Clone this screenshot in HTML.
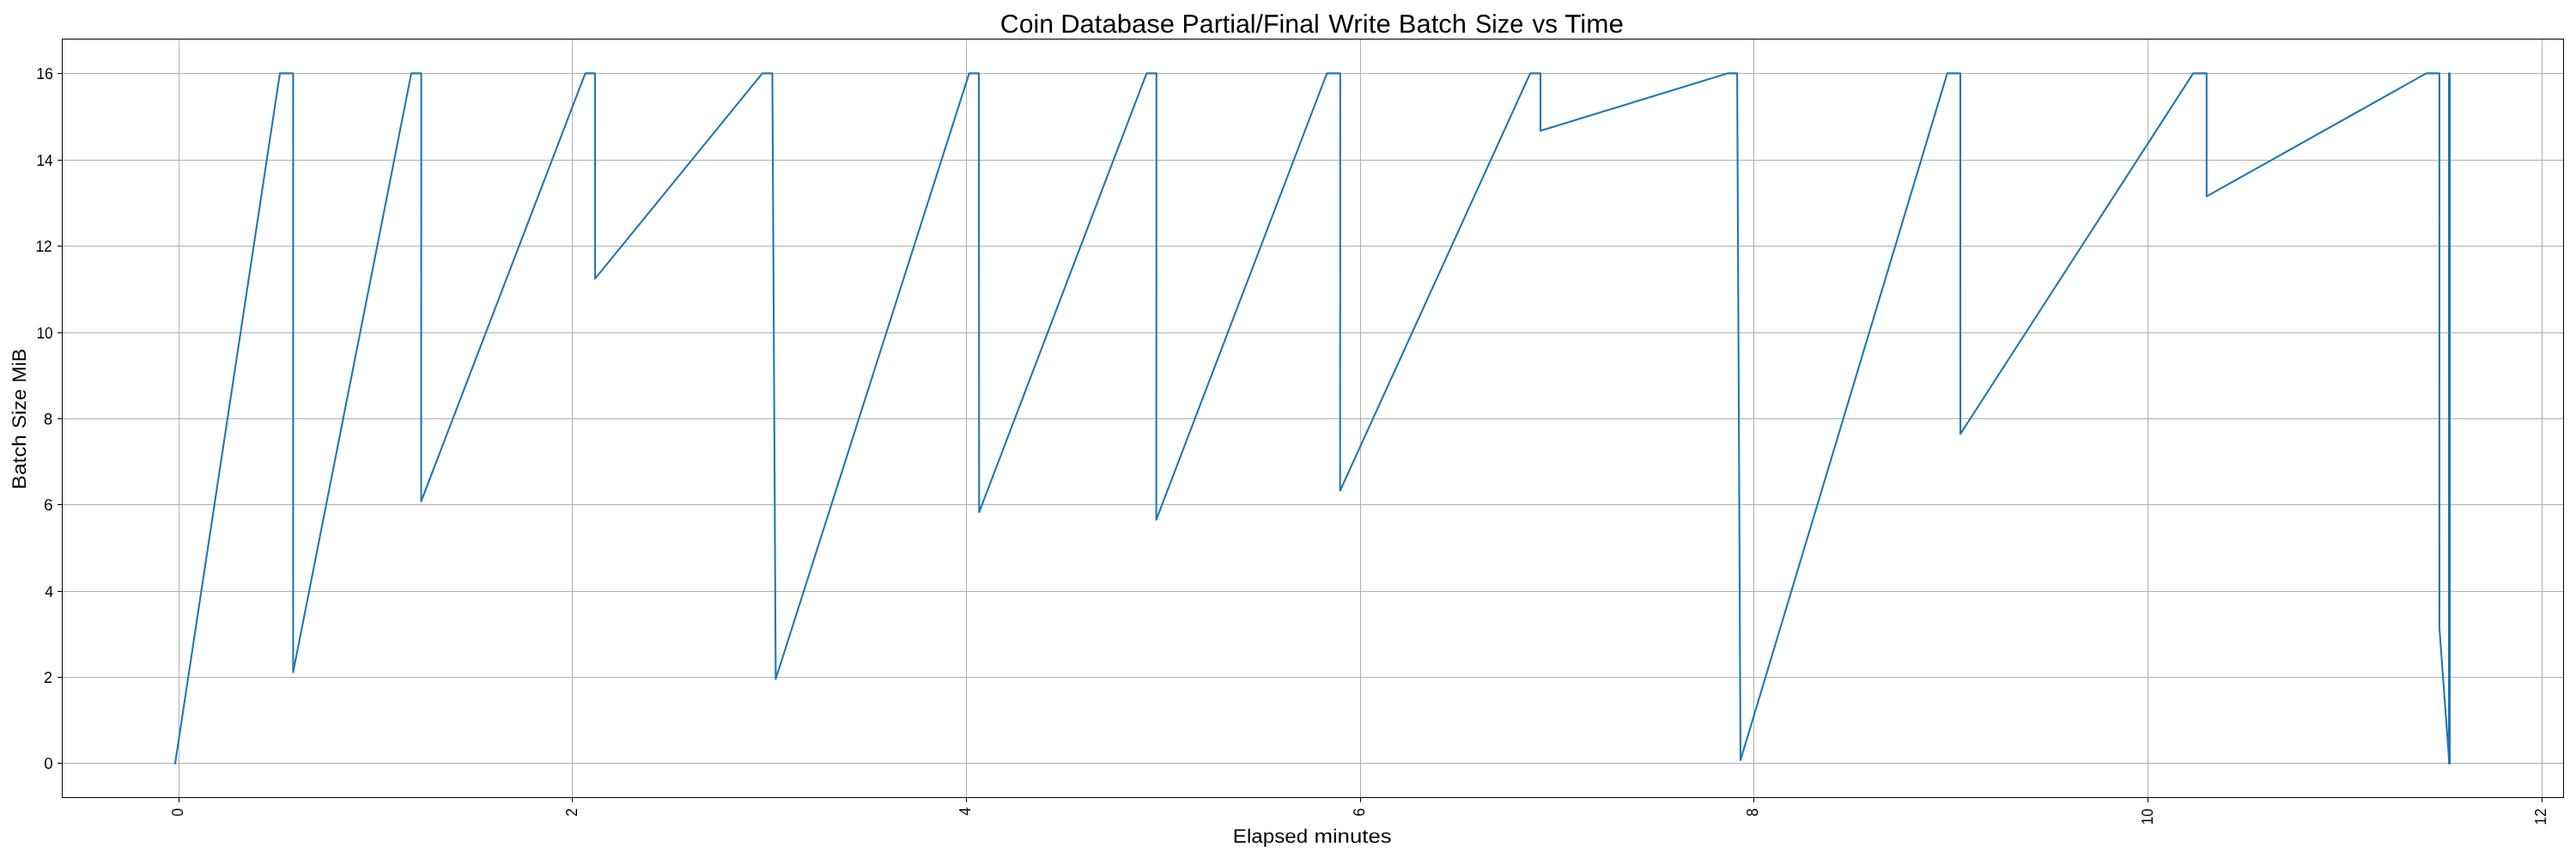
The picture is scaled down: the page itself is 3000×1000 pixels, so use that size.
<!DOCTYPE html><html><head><meta charset="utf-8"><style>html,body{margin:0;padding:0;background:#fff;overflow:hidden}svg{display:block;will-change:transform}text{font-family:"Liberation Sans",sans-serif;fill:#000;text-rendering:geometricPrecision}</style></head><body>
<svg width="3000" height="1000" viewBox="0 0 3000 1000">
<rect x="0" y="0" width="3000" height="1000" fill="#fff"/>
<g shape-rendering="crispEdges"><rect x="208" y="45" width="1" height="883" fill="#b0b0b0"/><rect x="666" y="45" width="1" height="883" fill="#b0b0b0"/><rect x="1125" y="45" width="1" height="883" fill="#b0b0b0"/><rect x="1584" y="45" width="1" height="883" fill="#b0b0b0"/><rect x="2042" y="45" width="1" height="883" fill="#b0b0b0"/><rect x="2501" y="45" width="1" height="883" fill="#b0b0b0"/><rect x="2960" y="45" width="1" height="883" fill="#b0b0b0"/><rect x="72" y="888" width="2913" height="1" fill="#b0b0b0"/><rect x="72" y="788" width="2913" height="1" fill="#b0b0b0"/><rect x="72" y="688" width="2913" height="1" fill="#b0b0b0"/><rect x="72" y="587" width="2913" height="1" fill="#b0b0b0"/><rect x="72" y="487" width="2913" height="1" fill="#b0b0b0"/><rect x="72" y="387" width="2913" height="1" fill="#b0b0b0"/><rect x="72" y="286" width="2913" height="1" fill="#b0b0b0"/><rect x="72" y="186" width="2913" height="1" fill="#b0b0b0"/><rect x="72" y="85" width="2913" height="1" fill="#b0b0b0"/></g>
<path d="M204.00,888.60 L326.00,85.40 L341.40,85.40 L341.40,782.60 L479.00,85.40 L490.60,85.40 L490.50,583.60 L681.60,85.40 L693.00,85.40 L693.10,324.40 L887.80,85.40 L899.50,85.40 L903.40,790.50 L1128.70,85.40 L1140.00,85.40 L1140.30,596.30 L1335.30,85.40 L1346.80,85.40 L1346.60,605.10 L1545.30,85.40 L1560.80,85.40 L1560.70,571.30 L1782.10,85.40 L1794.00,85.40 L1794.00,152.30 L2011.70,85.40 L2023.10,85.40 L2027.00,884.90 L2267.75,85.40 L2283.00,85.40 L2283.10,505.10 L2554.20,85.40 L2569.80,85.40 L2569.80,228.70 L2825.70,85.40 L2840.90,85.40 L2840.95,731.40 L2852.50,888.60" fill="none" stroke="#1f77b4" stroke-width="2.08" stroke-linejoin="round" stroke-linecap="square"/>
<path d="M2852.0,888.6 L2852.0,85.4 M2853.0,888.6 L2853.0,85.4" fill="none" stroke="#1f77b4" stroke-width="2.08" stroke-linecap="round"/>
<g shape-rendering="crispEdges"><rect x="72" y="45" width="1" height="884" fill="#000"/><rect x="2985" y="45" width="1" height="884" fill="#000"/><rect x="72" y="45" width="2914" height="1" fill="#000"/><rect x="72" y="928" width="2914" height="1" fill="#000"/><rect x="208" y="929" width="1" height="5" fill="#000"/><rect x="666" y="929" width="1" height="5" fill="#000"/><rect x="1125" y="929" width="1" height="5" fill="#000"/><rect x="1584" y="929" width="1" height="5" fill="#000"/><rect x="2042" y="929" width="1" height="5" fill="#000"/><rect x="2501" y="929" width="1" height="5" fill="#000"/><rect x="2960" y="929" width="1" height="5" fill="#000"/><rect x="67" y="888" width="5" height="1" fill="#000"/><rect x="67" y="788" width="5" height="1" fill="#000"/><rect x="67" y="688" width="5" height="1" fill="#000"/><rect x="67" y="587" width="5" height="1" fill="#000"/><rect x="67" y="487" width="5" height="1" fill="#000"/><rect x="67" y="387" width="5" height="1" fill="#000"/><rect x="67" y="286" width="5" height="1" fill="#000"/><rect x="67" y="186" width="5" height="1" fill="#000"/><rect x="67" y="85" width="5" height="1" fill="#000"/></g>
<text x="1164.79" y="37.90" font-size="30" textLength="62.23" lengthAdjust="spacingAndGlyphs">Coin</text>
<text x="1235.22" y="37.90" font-size="30" textLength="132.80" lengthAdjust="spacingAndGlyphs">Database</text>
<text x="1376.57" y="37.90" font-size="30" textLength="160.19" lengthAdjust="spacingAndGlyphs">Partial/Final</text>
<text x="1547.34" y="37.90" font-size="30" textLength="72.47" lengthAdjust="spacingAndGlyphs">Write</text>
<text x="1628.72" y="37.90" font-size="30" textLength="79.26" lengthAdjust="spacingAndGlyphs">Batch</text>
<text x="1717.89" y="37.90" font-size="30" textLength="56.42" lengthAdjust="spacingAndGlyphs">Size</text>
<text x="1784.45" y="37.90" font-size="30" textLength="29.58" lengthAdjust="spacingAndGlyphs">vs</text>
<text x="1822.21" y="37.90" font-size="30" textLength="68.81" lengthAdjust="spacingAndGlyphs">Time</text>
<text x="1435.87" y="980.90" font-size="22.5" textLength="87.27" lengthAdjust="spacingAndGlyphs">Elapsed</text>
<text x="1530.42" y="980.90" font-size="22.5" textLength="90.32" lengthAdjust="spacingAndGlyphs">minutes</text>
<text transform="translate(29.90,567.70) rotate(-90)" x="-1.99" y="0" font-size="22.5" textLength="63.66" lengthAdjust="spacingAndGlyphs">Batch</text>
<text transform="translate(29.90,497.60) rotate(-90)" x="-1.06" y="0" font-size="22.5" textLength="45.83" lengthAdjust="spacingAndGlyphs">Size</text>
<text transform="translate(29.90,443.70) rotate(-90)" x="-1.84" y="0" font-size="22.5" textLength="39.64" lengthAdjust="spacingAndGlyphs">MiB</text>
<text x="51.15" y="894.95" font-size="18.6" textLength="10.42" lengthAdjust="spacingAndGlyphs">0</text>
<text x="51.00" y="794.95" font-size="18.6" textLength="10.02" lengthAdjust="spacingAndGlyphs">2</text>
<text x="52.35" y="694.95" font-size="18.6" textLength="9.90" lengthAdjust="spacingAndGlyphs">4</text>
<text x="50.94" y="593.95" font-size="18.6" textLength="10.64" lengthAdjust="spacingAndGlyphs">6</text>
<text x="51.08" y="493.95" font-size="18.6" textLength="10.18" lengthAdjust="spacingAndGlyphs">8</text>
<text x="42.40" y="393.95" font-size="18.6" textLength="19.24" lengthAdjust="spacingAndGlyphs">10</text>
<text x="41.44" y="292.95" font-size="18.6" textLength="19.37" lengthAdjust="spacingAndGlyphs">12</text>
<text x="42.42" y="192.95" font-size="18.6" textLength="19.05" lengthAdjust="spacingAndGlyphs">14</text>
<text x="42.17" y="91.95" font-size="18.6" textLength="19.79" lengthAdjust="spacingAndGlyphs">16</text>
<text transform="translate(212.90,949.70) rotate(-90)" x="-0.69" y="0" font-size="18.6" textLength="9.60" lengthAdjust="spacingAndGlyphs">0</text>
<text transform="translate(672.00,949.70) rotate(-90)" x="-0.86" y="0" font-size="18.6" textLength="9.53" lengthAdjust="spacingAndGlyphs">2</text>
<text transform="translate(1130.00,949.05) rotate(-90)" x="-0.44" y="0" font-size="18.6" textLength="9.73" lengthAdjust="spacingAndGlyphs">4</text>
<text transform="translate(1589.00,949.70) rotate(-90)" x="-0.88" y="0" font-size="18.6" textLength="9.79" lengthAdjust="spacingAndGlyphs">6</text>
<text transform="translate(2047.00,949.70) rotate(-90)" x="-0.77" y="0" font-size="18.6" textLength="9.47" lengthAdjust="spacingAndGlyphs">8</text>
<text transform="translate(2507.10,958.90) rotate(-90)" x="-1.27" y="0" font-size="18.6" textLength="18.91" lengthAdjust="spacingAndGlyphs">10</text>
<text transform="translate(2965.10,959.10) rotate(-90)" x="-1.29" y="0" font-size="18.6" textLength="19.08" lengthAdjust="spacingAndGlyphs">12</text>
</svg></body></html>
